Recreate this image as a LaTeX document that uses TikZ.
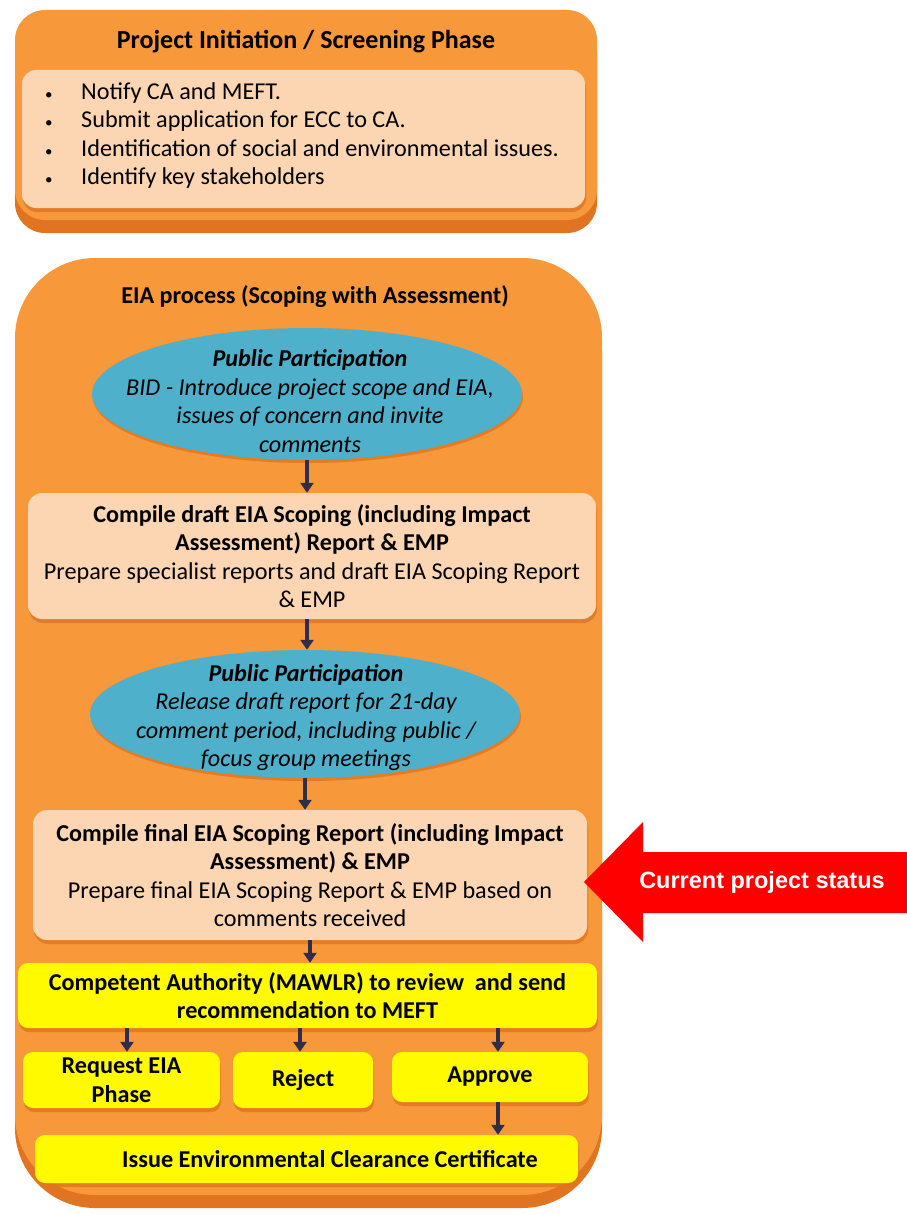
\documentclass[tikz,border=0pt]{standalone}
\usepackage{fontspec}
\setmainfont{Carlito}
\newfontfamily\arialfont{Liberation Sans}
\usetikzlibrary{arrows.meta,shapes.geometric,shadows}
\definecolor{phaseorange}{RGB}{247,152,58}
\definecolor{phasedark}{RGB}{224,116,32}
\definecolor{peach}{RGB}{252,214,178}
\definecolor{talkblue}{RGB}{78,176,202}
\definecolor{flagyellow}{RGB}{255,250,0}
\definecolor{flowgrey}{RGB}{50,45,70}
\newcommand{\dotmark}{\makebox[36pt][l]{\fontsize{15}{15}\selectfont\textbullet}}
\begin{document}
\begin{tikzpicture}[x=1pt,y=-1pt,
    every node/.style={font=\fontsize{24.2}{28.5}\selectfont, inner sep=0pt},
    phase/.style={fill=phaseorange, drop shadow={shadow xshift=0pt, shadow yshift=-13pt, fill=phasedark, opacity=1}},
    panel/.style={fill=peach, rounded corners=14pt, align=center, drop shadow={shadow xshift=1pt, shadow yshift=-4pt, fill=phasedark, opacity=0.8}},
    talk/.style={ellipse, fill=talkblue, drop shadow={shadow xshift=1pt, shadow yshift=-3pt, fill=phasedark, opacity=0.8}},
    flag/.style={fill=flagyellow, rounded corners=10pt, align=center, font=\bfseries\fontsize{24.2}{28.5}\selectfont, drop shadow={shadow xshift=1pt, shadow yshift=-4pt, fill=phasedark, opacity=0.8}},
    flow/.style={-{Triangle[length=10pt,width=13pt]}, line width=3.6pt, draw=flowgrey}]
  \useasboundingbox (0,0) rectangle (907,1215);
  \fill[white] (0,0) rectangle (907,1215);

  \node[phase, rounded corners=30pt, minimum width=582pt, minimum height=210pt] (screen) at (306,115) {};
  \node[font=\bfseries\fontsize{26}{30}\selectfont] (screentitle) at (306,42) {Project Initiation / Screening Phase};
  \node[panel, minimum width=563pt, minimum height=138pt] (tasks) at (303.5,139) {};
  \node[anchor=west, align=left] (tasklist) at (45,135.5) {\dotmark Notify CA and MEFT.\\
    \dotmark Submit application for ECC to CA.\\
    \dotmark Identification of social and environmental issues.\\
    \dotmark Identify key stakeholders};

  \node[phase, rounded corners=80pt, minimum width=587pt, minimum height=937pt] (eia) at (308.5,726.5) {};
  \node[font=\bfseries\fontsize{24.2}{28.5}\selectfont] (eiatitle) at (315,297) {EIA process (Scoping with Assessment)};

  \node[talk, minimum width=430pt, minimum height=132pt] (bid) at (307,394) {};
  \node[align=center, font=\itshape\fontsize{24.2}{28.5}\selectfont] (bidtext) at (310,401) {\textbf{Public Participation}\\BID - Introduce project scope and EIA,\\issues of concern and invite\\comments};

  \node[panel, minimum width=568pt, minimum height=126pt] (draft) at (312,556) {\textbf{Compile draft EIA Scoping (including Impact}\\\textbf{Assessment) Report \& EMP}\\Prepare specialist reports and draft EIA Scoping Report\\\& EMP};

  \node[talk, minimum width=430pt, minimum height=128pt] (release) at (305,714) {};
  \node[align=center, font=\itshape\fontsize{24.2}{28.5}\selectfont] (releasetext) at (306,717.5) {\textbf{Public Participation}\\Release draft report for 21-day\\comment period, including public /\\focus group meetings};

  \node[panel, minimum width=554pt, minimum height=130pt] (final) at (310,875) {\textbf{Compile final EIA Scoping Report (including Impact}\\\textbf{Assessment) \& EMP}\\Prepare final EIA Scoping Report \& EMP based on\\comments received};

  \node[flag, minimum width=579pt, minimum height=65pt] (review) at (307.5,995.5) {Competent Authority (MAWLR) to review ~and send\\recommendation to MEFT};
  \node[flag, minimum width=197pt, minimum height=56pt] (request) at (121.5,1080) {Request EIA\\Phase};
  \node[flag, minimum width=140pt, minimum height=56pt] (reject) at (303,1080) {Reject};
  \node[flag, minimum width=196pt, minimum height=50pt] (approve) at (490,1077) {Approve};
  \node[flag, minimum width=543pt, minimum height=48pt] (issue) at (306.5,1159) {\hspace*{47pt}Issue Environmental Clearance Certificate};

  \draw[flow] (bid.south) -- (bid.south |- draft.north);
  \draw[flow] (draft.south -| bid.south) -- (release.north -| bid.south);
  \draw[flow] (release.south) -- (release.south |- final.north);
  \draw[flow] (final.south) -- (final.south |- review.north);
  \foreach \target/\x in {request/127,reject/300,approve/498}
    \draw[flow] (\x,0 |- review.south) -- (\x,0 |- \target.north);
  \draw[flow] (approve.south -| 498,0) -- (issue.north -| 498,0);

  \fill[red] (584,882) -- (643,822) -- (643,852) -- (907,852) -- (907,913) -- (643,913) -- (643,942) -- cycle;
  \node[text=white, font=\arialfont\bfseries\fontsize{23.5}{28}\selectfont] (status) at (762,882) {Current project status};
\end{tikzpicture}
\end{document}
